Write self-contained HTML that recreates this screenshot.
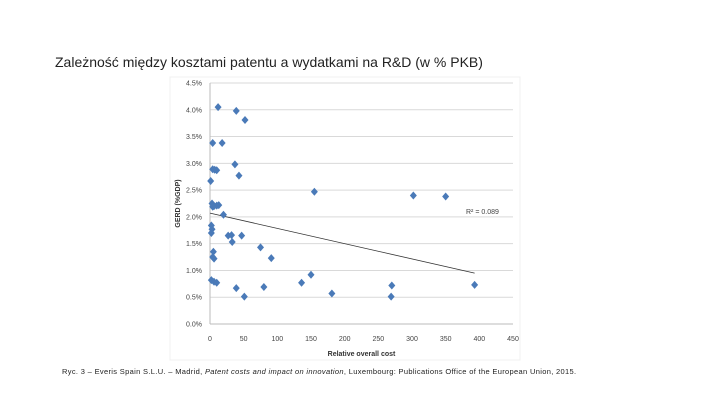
<!DOCTYPE html>
<html><head><meta charset="utf-8"><style>
body{margin:0;background:#fff;width:720px;height:405px;overflow:hidden;font-family:"Liberation Sans",sans-serif}
#title{position:absolute;left:55px;top:54px;font-size:14px;color:#222}
#cap{position:absolute;left:62px;top:367px;font-size:7.5px;letter-spacing:0.33px;color:#222;white-space:nowrap}
svg{position:absolute;left:0;top:0}
</style></head><body>
<div id="title">Zależność między kosztami patentu a wydatkami na R&amp;D (w % PKB)</div>
<svg id="chart" width="720" height="405"></svg>
<div id="cap">Ryc. 3 – Everis Spain S.L.U. – Madrid, <i>Patent costs and impact on innovation</i>, Luxembourg: Publications Office of the European Union, 2015.</div>
<script>
const xVals=[12,39,52,4,18,37,43,1,4,7,10,3,6,10,13,4,20,2,3,2,27,32,33,47,5,4,6,75,91,2,6,10,39,51,80,136,150,181,155,302,350,270,269,393];
const yVals=[4.05,3.98,3.81,3.38,3.38,2.98,2.77,2.67,2.89,2.88,2.87,2.25,2.2,2.21,2.22,2.19,2.04,1.84,1.77,1.7,1.65,1.66,1.53,1.65,1.35,1.25,1.22,1.43,1.23,0.82,0.79,0.77,0.67,0.51,0.69,0.77,0.92,0.57,2.47,2.40,2.38,0.72,0.51,0.73];
const xTicks=[0,50,100,150,200,250,300,350,400,450];
const yTicks=[0,0.5,1,1.5,2,2.5,3,3.5,4,4.5];
const trendX=[0,393];
const trendY=[2.07,0.95];
const NS="http://www.w3.org/2000/svg",svg=document.getElementById('chart');
const X=v=>210+v*(303/450), Y=v=>324-v*(241/4.5);
function el(t,a,p){const e=document.createElementNS(NS,t);for(const k in a)e.setAttribute(k,a[k]);(p||svg).appendChild(e);return e;}
const frame=el('rect',{x:170,y:77,width:350,height:283,fill:'none',stroke:'#f0f0f0'});


yTicks.forEach(t=>{
 const l=el('line',{x1:X(0),x2:X(450),y1:Y(t),y2:Y(t),stroke:t===0?'#bbb':'#d9d9d9','stroke-width':1});
 
 
 const tx=el('text',{x:202,y:Y(t)+2.5,'font-size':7,'text-anchor':'end',fill:'#444'});
 tx.textContent=t.toFixed(1)+'%';
 
 
});
el('line',{x1:X(0),x2:X(0),y1:Y(0),y2:Y(4.5),stroke:'#bbb'});
xTicks.forEach(t=>{
 const tx=el('text',{x:X(t),y:341,'font-size':7,'text-anchor':'middle',fill:'#444'});
 tx.textContent=t;
 
 
});
const xt=el('text',{x:X(225),y:356,'font-size':7,'font-weight':'bold','text-anchor':'middle',fill:'#333'});
xt.textContent='Relative overall cost';


const yt=el('text',{x:0,y:0,'font-size':7,'font-weight':'bold','text-anchor':'middle',fill:'#333',transform:'translate(180,'+Y(2.25)+') rotate(-90)'});
yt.textContent='GERD (%GDP)';


const tl=el('line',{x1:X(trendX[0]),y1:Y(trendY[0]),x2:X(trendX[1]),y2:Y(trendY[1]),stroke:'#333','stroke-width':0.8});


const r2=el('text',{x:466,y:214,'font-size':7,fill:'#444'});
r2.textContent='R² = 0.089';


xVals.forEach((v,i)=>{
 const cx=X(v),cy=Y(yVals[i]);
 const p=el('polygon',{points:`${cx},${cy-4} ${cx+3.5},${cy} ${cx},${cy+4} ${cx-3.5},${cy}`,fill:'#4a7ab8'});
 
 
});
</script>
</body></html>
